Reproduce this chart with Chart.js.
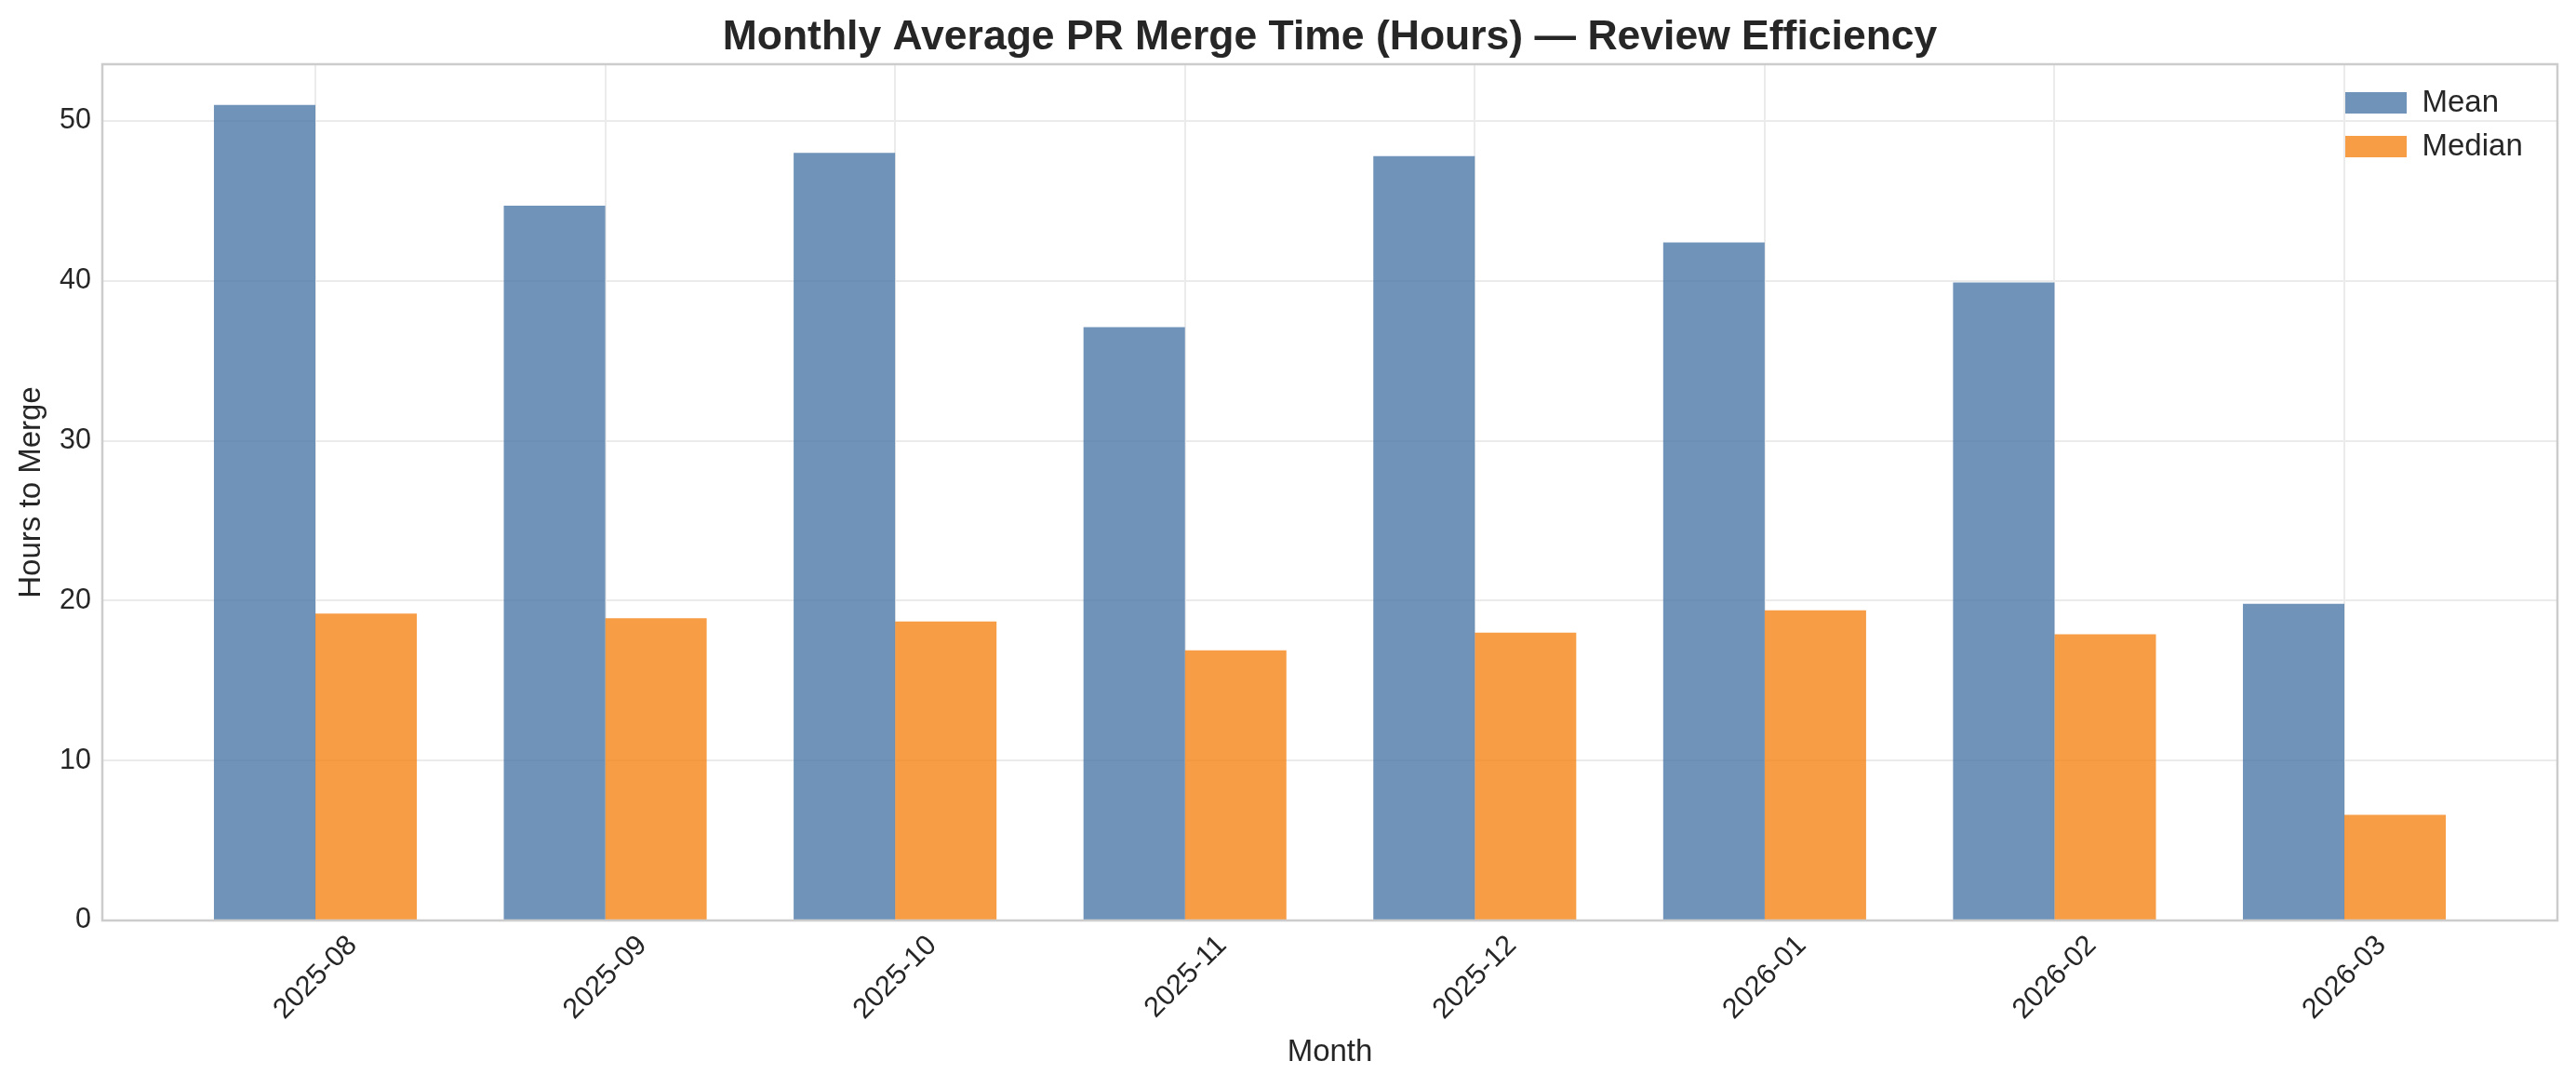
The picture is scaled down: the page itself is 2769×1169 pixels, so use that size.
<!DOCTYPE html>
<html>
<head>
<meta charset="utf-8">
<script src="https://cdn.jsdelivr.net/npm/chart.js@4.4.1/dist/chart.umd.min.js"></script>
<style>
html,body{margin:0;padding:0;background:#ffffff;}
#wrap{width:2769px;height:1169px;position:relative;}
</style>
</head>
<body>
<div id="wrap"><canvas id="c"></canvas></div>
<script>
const categories = ['2025-08','2025-09','2025-10','2025-11','2025-12','2026-01','2026-02','2026-03'];
const meanHours = [51.0, 44.7, 48.0, 37.1, 47.8, 42.4, 39.9, 19.8];
const medianHours = [19.2, 18.9, 18.7, 16.9, 18.0, 19.4, 17.9, 6.6];
const yTicks = [0, 10, 20, 30, 40, 50];
const seriesNames = ['Mean', 'Median'];

const FONT = "'Liberation Sans', Arial, Helvetica, sans-serif";
const TEXT = '#262626';
const GRID = '#ebebeb';

const framePlugin = {
  id: 'frame',
  afterDatasetsDraw(chart) {
    const {ctx, chartArea: a} = chart;
    ctx.save();
    ctx.strokeStyle = '#cccccc';
    ctx.lineWidth = 2.5;
    ctx.strokeRect(a.left, a.top, a.right - a.left, a.bottom - a.top);
    ctx.restore();
  }
};

const placeBoxes = {
  id: 'placeBoxes',
  afterLayout(chart) {
    const a = chart.chartArea;
    const lg = chart.legend;
    if (lg) {
      const w = lg.width, h = lg.height;
      lg.left = a.right - 242;
      lg.right = lg.left + w;
      lg.top = a.top + 11;
      lg.bottom = lg.top + h;
    }
    const tb = chart.titleBlock;
    if (tb) {
      tb.left = a.left;
      tb.right = a.right;
      tb.width = a.right - a.left;
    }
  }
};

new Chart(document.getElementById('c'), {
  type: 'bar',
  data: {
    datasets: [
      {
        label: seriesNames[0],
        data: meanHours.map((v, i) => ({x: i, y: v})),
        backgroundColor: 'rgba(76,120,168,0.8)',
        borderWidth: 0
      },
      {
        label: seriesNames[1],
        data: medianHours.map((v, i) => ({x: i, y: v})),
        backgroundColor: 'rgba(245,133,24,0.8)',
        borderWidth: 0
      }
    ]
  },
  options: {
    responsive: true,
    maintainAspectRatio: false,
    devicePixelRatio: 1,
    animation: false,
    categoryPercentage: 0.7,
    barPercentage: 1.0,
    layout: {padding: {left: 0, right: 20, top: 0, bottom: 0}},
    plugins: {
      title: {
        display: true,
        text: 'Monthly Average PR Merge Time (Hours) — Review Efficiency',
        color: TEXT,
        font: {family: FONT, size: 44.5, weight: 'bold'},
        padding: {top: 14.4, bottom: 1.2}
      },
      legend: {
        position: 'chartArea',
        align: 'start',
        labels: {
          color: TEXT,
          font: {family: FONT, size: 33},
          boxWidth: 66,
          boxHeight: 23,
          padding: 14
        }
      },
      tooltip: {enabled: false}
    },
    scales: {
      x: {
        type: 'linear',
        min: -0.735,
        max: 7.735,
        offset: false,
        afterBuildTicks: (scale) => { scale.ticks = categories.map((_, i) => ({value: i})); },
        afterFit: (scale) => { scale.height = 180; },
        grid: {color: GRID, lineWidth: 2, drawTicks: false, offset: false},
        border: {display: false},
        ticks: {
          color: TEXT,
          font: {family: FONT, size: 30.5},
          minRotation: 45,
          maxRotation: 45,
          autoSkip: false,
          padding: 9,
          labelOffset: 40,
          callback: (value) => categories[Math.round(value)]
        },
        title: {
          display: true,
          text: 'Month',
          color: TEXT,
          font: {family: FONT, size: 33},
          padding: {top: 0, bottom: 18}
        }
      },
      y: {
        min: 0,
        max: 53.55,
        afterBuildTicks: (scale) => { scale.ticks = yTicks.map(v => ({value: v})); },
        afterFit: (scale) => { scale.width = 110; },
        grid: {color: GRID, lineWidth: 2, drawTicks: false},
        border: {display: false},
        ticks: {
          color: TEXT,
          font: {family: FONT, size: 30.5},
          padding: 12,
          callback: (value) => String(value)
        },
        title: {
          display: true,
          text: 'Hours to Merge',
          color: TEXT,
          font: {family: FONT, size: 33},
          padding: {top: 14, bottom: 0}
        }
      }
    }
  },
  plugins: [framePlugin, placeBoxes]
});
</script>
</body>
</html>
